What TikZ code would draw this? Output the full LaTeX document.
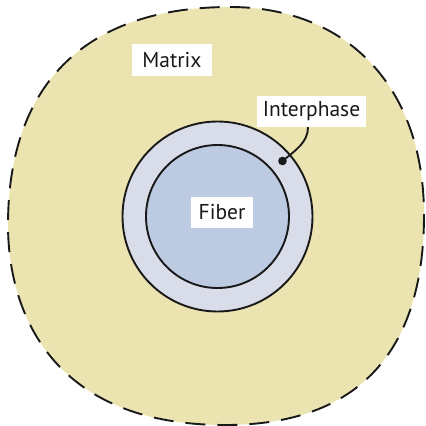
\documentclass[tikz,border=0pt]{standalone}
\usepackage{fontspec}
\setmainfont{PT Sans}
\definecolor{matrixfill}{RGB}{236,228,176}
\definecolor{interfill}{RGB}{217,220,233}
\definecolor{fiberfill}{RGB}{188,203,226}
\definecolor{inkline}{RGB}{25,25,25}
\tikzset{
  labelbox/.style={fill=white, inner xsep=8pt, inner ysep=0pt, minimum height=32pt,
    font=\fontsize{21.5}{24}\selectfont, text=inkline},
  ring/.style={draw=inkline, line width=1.9pt},
  boundary/.style={draw=inkline, line width=1.9pt, dash pattern=on 20pt off 12pt},
}
\begin{document}
\begin{tikzpicture}[x=1pt,y=-1pt]
\useasboundingbox (0,0) rectangle (426,426);
% matrix region: a rounded, slightly irregular square
\path[boundary, fill=matrixfill]
  (230,7) .. controls (345,7) and (424,85) .. (424,215)
          .. controls (424,350) and (360,425) .. (225,425)
          .. controls (50,425) and (8,310) .. (8,225)
          .. controls (8,80) and (90,7) .. cycle;
% interphase and fiber
\coordinate (c) at (217.5,216.5);
\draw[ring, fill=interfill] (c) circle[radius=95];
\draw[ring, fill=fiberfill] (c) circle[radius=71.5];
% labels
\node[labelbox, minimum width=80pt] (matrix) at (172,60) {Matrix};
\node[labelbox, inner xsep=6pt, minimum height=31pt] (interphase) at (311.5,111.5) {Interphase};
\node[labelbox, minimum height=31pt] (fiber) at (222,212.5) {Fiber};
% leader to the interphase
\coordinate (dot) at (282.5,161);
\fill[inkline] (dot) circle[radius=4.3];
\draw[inkline, line width=1.9pt] (interphase.south -| 308,0) .. controls (308,142) and (296,150) .. (dot);
\end{tikzpicture}
\end{document}
